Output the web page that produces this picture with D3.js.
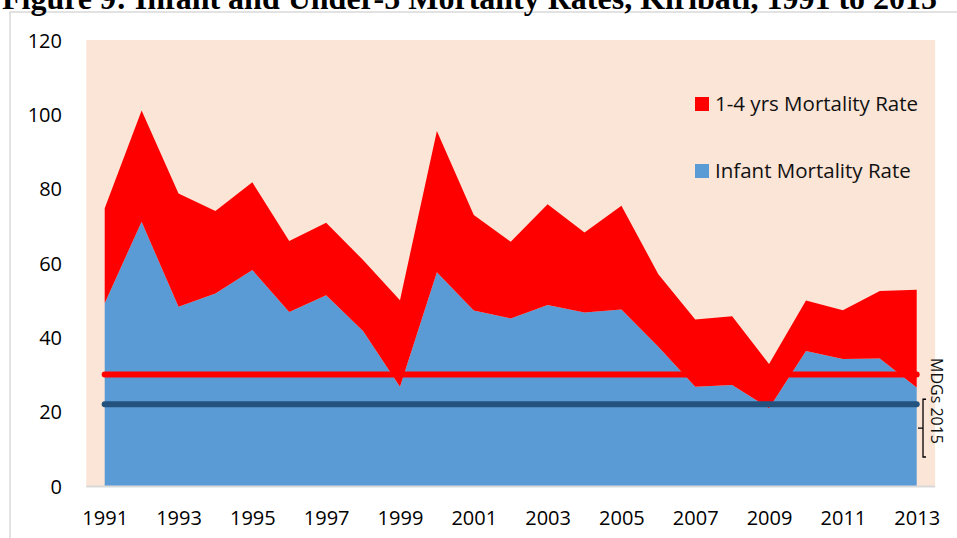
<!DOCTYPE html>
<html>

<head>
    <meta charset="UTF-8">
    <style>
        body { margin: 0; background: #fff; }
        svg { display: block; }
    </style>
</head>

<body>
    <script src="https://d3js.org/d3.v7.min.js"></script>
    <div id="chart"></div>
    <script>
        // data
        const years = d3.range(1991, 2014);
        const infantRate = [49.2, 71.1, 48.2, 51.8, 58.1, 46.8, 51.3, 41.7, 26.7, 57.5, 47.2, 45.1,
            48.7, 46.7, 47.5, 37.5, 26.7, 27.2, 20.9, 36.3, 34.2, 34.3, 26.5];
        const childRate = [25.5, 29.9, 30.5, 22.2, 23.6, 19.1, 19.5, 19.1, 23.3, 38.0, 25.7, 20.6,
            27.1, 21.5, 27.9, 19.5, 18.1, 18.5, 11.9, 13.6, 13.1, 18.2, 26.3];
        const mdgTargets = [30, 22]; // under-5 target, infant target
        const yTicks = [0, 20, 40, 60, 80, 100, 120];
        const xTicks = d3.range(1991, 2014, 2);
        const seriesNames = ["1-4 yrs Mortality Rate", "Infant Mortality Rate"];

        const width = 957, height = 538;
        const svg = d3.select("#chart")
            .append("svg")
            .attr("width", width)
            .attr("height", height);

        // chart border
        svg.append("rect")
            .attr("x", 10).attr("y", 12)
            .attr("width", 960).attr("height", 540)
            .attr("fill", "none")
            .attr("stroke", "#d9d9d9")
            .attr("stroke-width", 1.5);

        // title (cut off at the top in the original)
        svg.append("text")
            .attr("x", 2).attr("y", 9)
            .style("font-family", "'Liberation Serif', 'Times New Roman', serif")
            .style("font-weight", "bold")
            .style("font-size", "32px")
            .text("Figure 9:  Infant and Under-5 Mortality Rates, Kiribati, 1991 to 2015");

        const x = d3.scaleLinear()
            .domain([1991, 2013])
            .range([104.7, 916.7]);

        const y = d3.scaleLinear()
            .domain([0, 120])
            .range([486, 40]);

        // plot area background
        svg.append("rect")
            .attr("x", x(1990.5))
            .attr("y", y(120))
            .attr("width", x(2013.5) - x(1990.5))
            .attr("height", y(0) - y(120))
            .attr("fill", "#fbe5d6");

        const records = years.map((yr, i) => ({ year: yr, infant: infantRate[i], child: childRate[i] }));

        // red area (stacked on top of infant)
        const areaTop = d3.area()
            .x(d => x(d.year))
            .y0(d => y(d.infant))
            .y1(d => y(d.infant + d.child));

        const areaInfant = d3.area()
            .x(d => x(d.year))
            .y0(y(0))
            .y1(d => y(d.infant));

        svg.append("path")
            .datum(records)
            .attr("d", areaInfant)
            .attr("fill", "#5b9bd5");

        svg.append("path")
            .datum(records)
            .attr("d", areaTop)
            .attr("fill", "#ff0000");

        // x axis baseline
        svg.append("line")
            .attr("x1", x(1990.5)).attr("x2", x(2013.5))
            .attr("y1", y(0) + 0.5).attr("y2", y(0) + 0.5)
            .attr("stroke", "#d9d9d9")
            .attr("stroke-width", 2);

        // MDG target lines
        const lineColors = ["#ff0000", "#24527e"];
        mdgTargets.forEach(function (t, i) {
            svg.append("line")
                .attr("x1", x(1991)).attr("x2", x(2013))
                .attr("y1", y(t)).attr("y2", y(t))
                .attr("stroke", lineColors[i])
                .attr("stroke-width", 6)
                .attr("stroke-linecap", "round");
        });

        // axes
        const tickFont = "'Open Sans', 'Noto Sans', sans-serif";

        const yAxis = svg.append("g")
            .attr("transform", "translate(62,0)")
            .call(d3.axisLeft(y).tickValues(yTicks).tickSize(0).tickPadding(0));
        yAxis.select(".domain").remove();
        yAxis.selectAll("text")
            .attr("dy", "0.35em")
            .style("font-family", tickFont)
            .style("font-size", "20px")
            .attr("fill", "#000");

        const xAxis = svg.append("g")
            .attr("transform", "translate(0,525)")
            .call(d3.axisBottom(x).tickValues(xTicks).tickFormat(d3.format("d")).tickSize(0).tickPadding(0));
        xAxis.select(".domain").remove();
        xAxis.selectAll("text")
            .attr("y", 0)
            .attr("dy", 0)
            .style("font-family", tickFont)
            .style("font-size", "20px")
            .attr("fill", "#000");

        // legend
        const legendColors = ["#ff0000", "#5b9bd5"];
        const legend = svg.append("g");
        seriesNames.forEach(function (name, i) {
            const ly = 111 + i * 67;
            legend.append("rect")
                .attr("x", 695).attr("y", ly - 14)
                .attr("width", 14).attr("height", 14)
                .attr("fill", legendColors[i]);
            legend.append("text")
                .attr("x", 715).attr("y", ly)
                .style("font-family", tickFont)
                .style("font-size", "20.5px")
                .attr("fill", "#111")
                .text(name);
        });

        // MDGs 2015 bracket and label
        const bTop = y(mdgTargets[1]) - 5, bBot = 457, bMid = (bTop + bBot) / 2;
        svg.append("path")
            .attr("d", `M926,${bTop} H923 V${bBot} H926 M923,${bMid} H918`)
            .attr("fill", "none")
            .attr("stroke", "#000")
            .attr("stroke-width", 1.3);

        svg.append("text")
            .attr("transform", "translate(931,358) rotate(90)")
            .style("font-family", tickFont)
            .style("font-size", "16px")
            .attr("fill", "#111")
            .text("MDGs 2015");
    </script>
</body>

</html>
